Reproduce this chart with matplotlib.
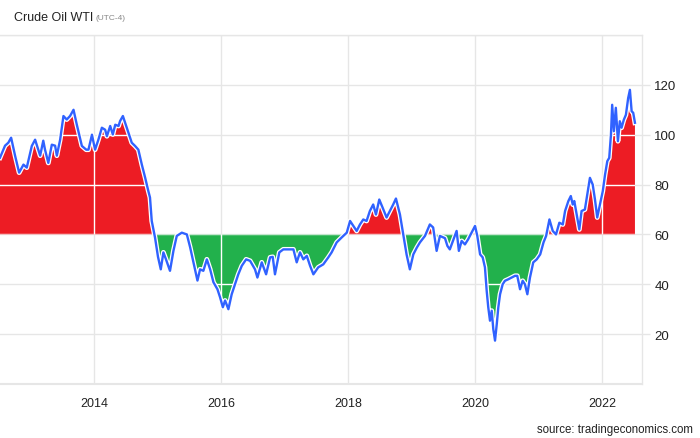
import numpy as np
import pandas as pd
import matplotlib
matplotlib.use('Agg')
import matplotlib.pyplot as plt
import matplotlib.dates as mdates
import matplotlib.patheffects as pe
from matplotlib.path import Path

# cena ropy WTI (USD/bbl)
dates = [
    '2012-07-08', '2012-08-06', '2012-08-25', '2012-09-10', '2012-10-03', '2012-10-26',
    '2012-11-20', '2012-12-09', '2013-01-07', '2013-01-26', '2013-02-24', '2013-03-14',
    '2013-03-24', '2013-04-12', '2013-05-02', '2013-05-21', '2013-05-31', '2013-06-19',
    '2013-07-08', '2013-07-27', '2013-08-15', '2013-09-04', '2013-09-23', '2013-10-22',
    '2013-11-16', '2013-11-29', '2013-12-19', '2014-01-06', '2014-01-25', '2014-02-14',
    '2014-03-05', '2014-03-15', '2014-04-03', '2014-04-18', '2014-05-02', '2014-05-21',
    '2014-05-30', '2014-06-15', '2014-06-28', '2014-07-17', '2014-08-05', '2014-08-24',
    '2014-09-12', '2014-10-02', '2014-10-21', '2014-11-08', '2014-11-18', '2014-11-28',
    '2014-12-17', '2015-01-03', '2015-01-19', '2015-02-03', '2015-02-18', '2015-03-13',
    '2015-04-02', '2015-04-21', '2015-05-20', '2015-06-18', '2015-07-07', '2015-07-26',
    '2015-08-18', '2015-09-02', '2015-09-21', '2015-10-11', '2015-10-30', '2015-11-18',
    '2015-12-11', '2015-12-26', '2016-01-11', '2016-01-24', '2016-02-12', '2016-03-02',
    '2016-03-21', '2016-04-09', '2016-04-29', '2016-05-24', '2016-06-16', '2016-07-14',
    '2016-07-28', '2016-08-22', '2016-09-16', '2016-10-09', '2016-10-24', '2016-11-06',
    '2016-12-01', '2016-12-24', '2017-01-23', '2017-02-20', '2017-03-11', '2017-03-30',
    '2017-04-18', '2017-05-08', '2017-05-27', '2017-06-15', '2017-07-13', '2017-08-11',
    '2017-09-09', '2017-09-28', '2017-10-27', '2017-11-25', '2017-12-24', '2018-01-12',
    '2018-01-31', '2018-02-19', '2018-03-10', '2018-03-29', '2018-04-17', '2018-05-06',
    '2018-05-25', '2018-06-10', '2018-06-29', '2018-07-18', '2018-08-10', '2018-08-29',
    '2018-09-17', '2018-10-03', '2018-10-26', '2018-11-14', '2018-12-03', '2018-12-22',
    '2019-01-11', '2019-01-31', '2019-02-18', '2019-03-19', '2019-04-16', '2019-05-05',
    '2019-05-25', '2019-06-13', '2019-07-12', '2019-07-26', '2019-08-09', '2019-09-17',
    '2019-09-30', '2019-10-16', '2019-11-04', '2019-11-22', '2019-12-12', '2020-01-01',
    '2020-01-14', '2020-01-30', '2020-02-14', '2020-02-27', '2020-03-08', '2020-03-17',
    '2020-03-27', '2020-04-06', '2020-04-15', '2020-04-25', '2020-05-05', '2020-05-14',
    '2020-05-24', '2020-06-08', '2020-06-21', '2020-07-10', '2020-07-30', '2020-08-18',
    '2020-08-31', '2020-09-16', '2020-10-01', '2020-10-14', '2020-10-28', '2020-11-12',
    '2020-12-01', '2020-12-21', '2021-01-10', '2021-01-29', '2021-02-13', '2021-03-04',
    '2021-03-23', '2021-04-11', '2021-04-30', '2021-05-20', '2021-06-02', '2021-06-21',
    '2021-07-05', '2021-07-16', '2021-07-25', '2021-08-11', '2021-08-23', '2021-09-05',
    '2021-09-24', '2021-10-08', '2021-10-23', '2021-11-08', '2021-11-21', '2021-12-04',
    '2021-12-20', '2022-01-05', '2022-01-18', '2022-01-31', '2022-02-11', '2022-02-21',
    '2022-02-28', '2022-03-10', '2022-03-21', '2022-04-02', '2022-04-13', '2022-04-23',
    '2022-05-06', '2022-05-18', '2022-05-31', '2022-06-10', '2022-06-20', '2022-06-29',
    '2022-07-09',
]
price = [
    90.8, 95.6, 96.8, 98.8, 91.5, 84.8,
    88.0, 86.8, 95.5, 98.0, 91.6, 97.6,
    94.0, 88.7, 96.0, 95.6, 91.6, 98.0,
    107.5, 106.1, 107.5, 110.0, 104.0, 95.5,
    94.0, 94.0, 100.0, 94.0, 98.0, 102.8,
    102.0, 99.4, 103.5, 100.1, 104.0, 103.5,
    105.5, 107.5, 104.8, 100.8, 96.8, 95.5,
    94.0, 88.0, 82.8, 77.5, 74.8, 65.4,
    58.7, 51.0, 46.0, 52.8, 50.0, 45.4,
    53.5, 59.4, 60.7, 60.0, 54.8, 48.8,
    41.5, 46.0, 45.4, 50.0, 46.0, 40.8,
    38.0, 34.8, 30.8, 33.5, 30.0, 36.0,
    40.0, 44.0, 47.4, 50.0, 49.4, 46.0,
    42.7, 48.8, 44.0, 50.8, 51.0, 44.0,
    52.8, 54.0, 54.0, 54.0, 48.8, 52.8,
    50.0, 51.4, 47.4, 44.0, 46.8, 48.0,
    50.8, 52.8, 56.8, 58.8, 60.7, 65.4,
    63.4, 61.4, 64.0, 66.0, 65.4, 69.4,
    72.0, 68.0, 74.0, 70.8, 66.8, 69.4,
    72.0, 74.4, 68.0, 60.0, 52.0, 46.0,
    52.0, 54.7, 56.8, 59.4, 64.0, 62.8,
    53.4, 59.4, 58.5, 55.4, 54.0, 61.4,
    53.4, 57.4, 56.0, 58.0, 60.7, 63.4,
    59.4, 52.0, 50.8, 46.8, 37.4, 30.8,
    25.4, 29.4, 22.0, 17.4, 24.0, 30.8,
    36.0, 40.0, 41.4, 42.0, 42.7, 43.4,
    43.4, 38.0, 41.4, 40.0, 36.0, 42.7,
    48.8, 50.0, 52.0, 56.8, 59.4, 66.0,
    61.4, 60.0, 64.7, 64.0, 69.4, 73.4,
    75.4, 72.0, 73.4, 66.8, 62.0, 69.4,
    70.0, 76.0, 82.7, 80.0, 74.0, 66.8,
    72.0, 77.4, 84.0, 89.4, 90.7, 100.0,
    112.0, 101.4, 110.8, 97.4, 105.4, 102.8,
    106.0, 108.0, 114.7, 118.0, 109.4, 108.8,
    104.8,
]
baseline = 60
yticks = [20, 40, 60, 80, 100, 120]
xticks = ['2014-01-01', '2016-01-01', '2018-01-01', '2020-01-01', '2022-01-01']

t = pd.to_datetime(dates)
p = np.array(price)

plt.rcParams['font.family'] = ['Liberation Sans', 'DejaVu Sans']
fig = plt.figure(figsize=(7, 4.39), dpi=100)
ax = fig.add_axes([0, 0.123, 0.917, 0.795])

grid_c = '#e6e6e6'
red = ax.fill_between(t, p, baseline, where=p >= baseline, interpolate=True,
                      color='#ed1c24', lw=0, zorder=2)
green = ax.fill_between(t, p, baseline, where=p <= baseline, interpolate=True,
                        color='#22b14c', lw=0, zorder=2)

# linie siatki na wypełnieniu są białe
clip = Path.make_compound_path(*red.get_paths(), *green.get_paths())
for y in yticks + [140]:
    ax.axhline(y, color=grid_c, lw=1, zorder=1)
    w = ax.axhline(y, color='white', lw=1, zorder=3)
    w.set_clip_path(clip, ax.transData)
for x in pd.to_datetime(xticks):
    ax.axvline(x, color=grid_c, lw=1, zorder=1)
    w = ax.axvline(x, color='white', lw=1, zorder=3)
    w.set_clip_path(clip, ax.transData)

ax.plot(t, p, color='#3062ff', lw=1.7, zorder=4,
        path_effects=[pe.Stroke(linewidth=3.5, foreground='white'), pe.Normal()])

ax.set_xlim(pd.Timestamp('2012-07-08'), pd.Timestamp('2022-08-18'))
ax.set_ylim(0, 140)
ax.set_xticks(pd.to_datetime(xticks))
ax.xaxis.set_major_formatter(mdates.DateFormatter('%Y'))
ax.set_yticks(yticks)
ax.yaxis.tick_right()
ax.tick_params(axis='x', length=0, pad=9, labelsize=9, colors='#222222')
ax.tick_params(axis='y', length=6, width=1, color=grid_c, pad=3, labelsize=9.5,
               labelcolor='#222222')

ax.spines['left'].set_visible(False)
for s in ['top', 'right', 'bottom']:
    ax.spines[s].set_color(grid_c)
    ax.spines[s].set_linewidth(1)
ax.spines['bottom'].set_linewidth(1.5)

fig.text(14 / 700, 1 - 18 / 439, 'Crude Oil WTI', fontsize=9, va='center', color='#222222')
fig.text(96 / 700, 1 - 18.5 / 439, '(UTC-4)', fontsize=6, va='center', color='#888888')
fig.text(0.99, 1 - 430 / 439, 'source: tradingeconomics.com', fontsize=8.3,
         ha='right', va='center', color='#222222')

fig.savefig('out.png', dpi=100)
